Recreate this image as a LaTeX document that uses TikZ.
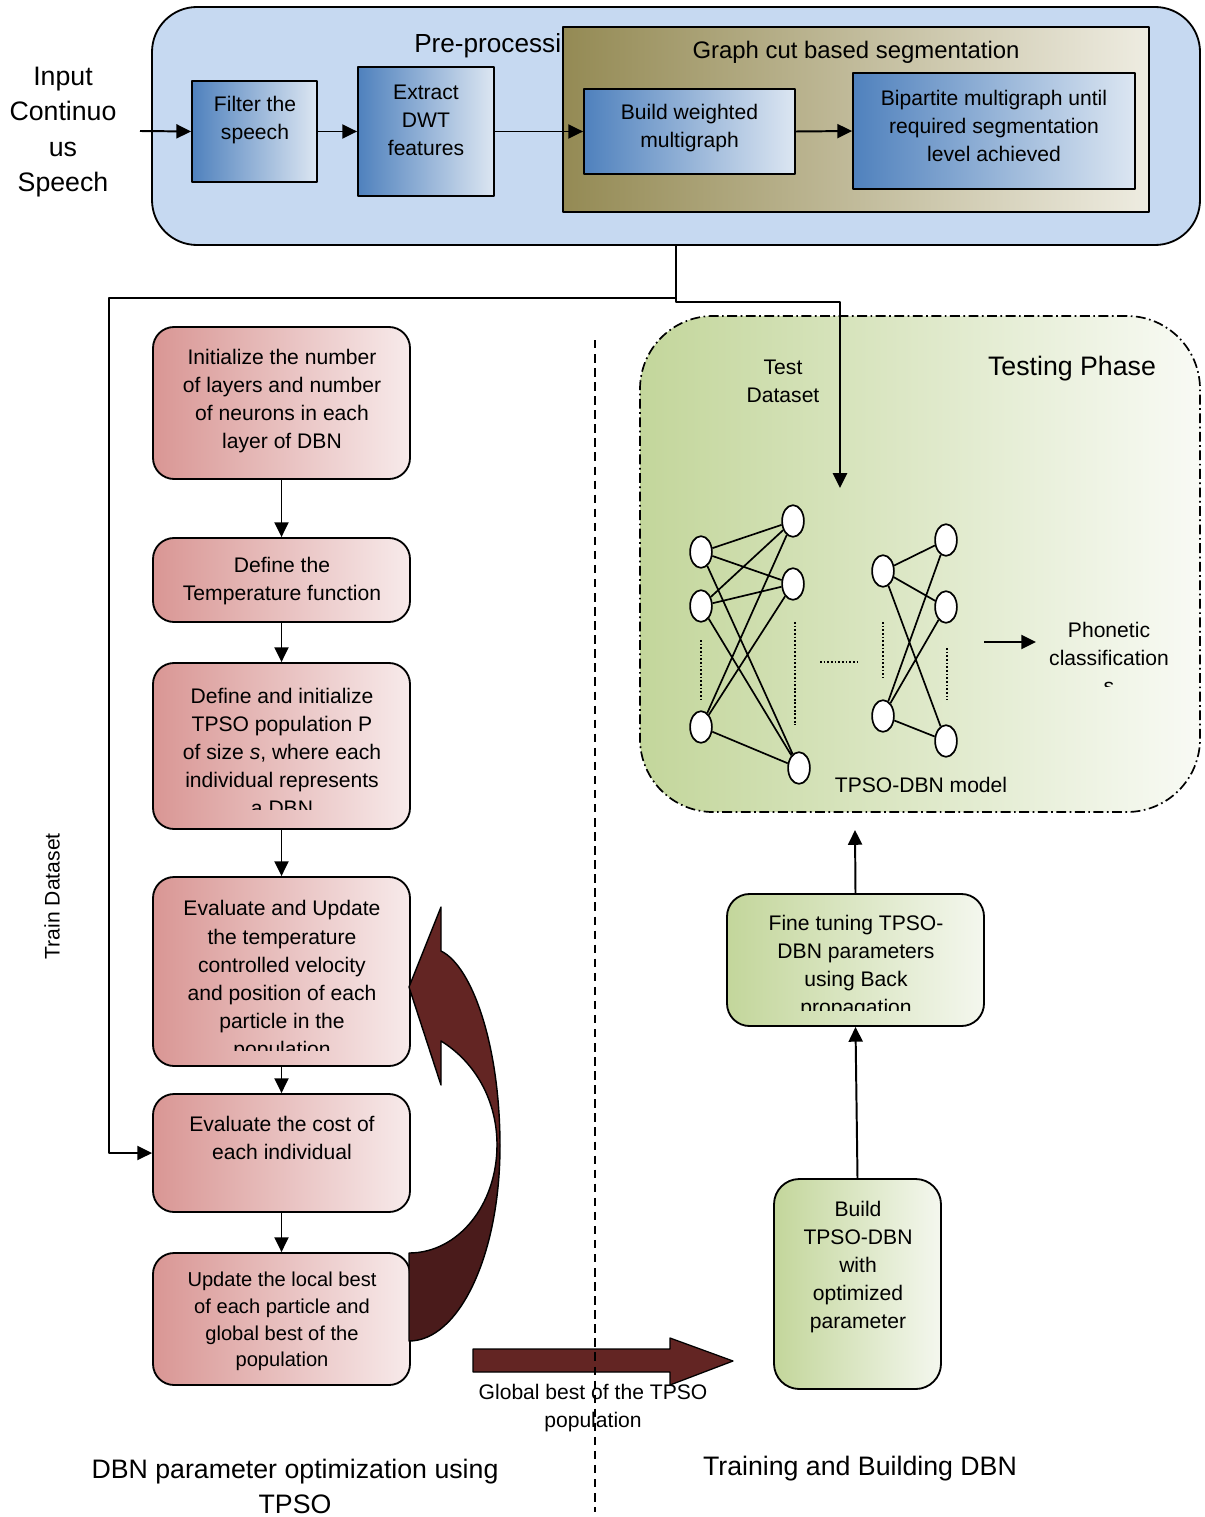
\documentclass[tikz,border=0pt]{standalone}
\usepackage{fontspec}
\setmainfont{Liberation Sans}
\usepackage{tikz}
\usetikzlibrary{arrows.meta, positioning, calc, fit, shapes.geometric}
\usepackage{xcolor}

\definecolor{preblue}{HTML}{C6D9F1}
\definecolor{blueL}{HTML}{4F81BD}
\definecolor{blueR}{HTML}{DCE6F2}
\definecolor{oliveL}{HTML}{948A54}
\definecolor{oliveR}{HTML}{EEECE1}
\definecolor{redL}{HTML}{D99694}
\definecolor{redR}{HTML}{F7EAEA}
\definecolor{greenL}{HTML}{C3D69B}
\definecolor{greenR}{HTML}{F4F7EE}
\definecolor{maroon}{HTML}{632523}
\definecolor{maroonD}{HTML}{4A1B1B}

\tikzset{
  box/.style={draw, line width=1.3pt, inner sep=0pt},
  prebox/.style={box, fill=preblue, rounded corners=32pt},
  olivebox/.style={box, left color=oliveL, right color=oliveR},
  bluebox/.style={box, left color=blueL, right color=blueR},
  redbox/.style={box, left color=redL, right color=redR, rounded corners=15pt},
  greenbox/.style={box, left color=greenL, right color=greenR, rounded corners=16pt},
  phasebox/.style={draw, line width=1.2pt, inner sep=0pt, left color=greenL, right color=greenR!60!white,
    rounded corners=52pt, dash pattern=on 7pt off 2.5pt on 1.2pt off 2.5pt},
  txt/.style={align=center, inner sep=0pt, yshift=-1.6pt, font=\fontsize{15}{20}\selectfont},
  smalltxt/.style={align=center, inner sep=0pt, yshift=-1.2pt, font=\fontsize{14.3}{19}\selectfont},
  head/.style={inner sep=0pt, yshift=-1.6pt, font=\fontsize{17}{21}\selectfont},
  big/.style={align=center, inner sep=0pt, yshift=-1.8pt, font=\fontsize{19}{24.6}\selectfont},
  arr/.style={line width=1.4pt, -{Triangle[length=10.5pt, width=10pt]}},
  neuron/.style={ellipse, draw, fill=white, line width=1.2pt, minimum width=15.5pt, minimum height=22.5pt, inner sep=0pt},
  edge/.style={line width=1.2pt},
  dots/.style={line width=1.6pt, dash pattern=on 1.3pt off 1.3pt}
}

\begin{document}
\begin{tikzpicture}[x=0.025cm, y=-0.025cm, line join=round]
    \path[fill=white] (0,0) rectangle (1204,1517);
    \useasboundingbox (0,0) rectangle (1204,1517);

    % Pre-processing stage
    \node[prebox, fit={(152,7) (1200,245)}] (pre) {};
    \node[head, anchor=west, font=\fontsize{18.6}{22}\selectfont] (pre-t) at (414,43) {Pre-processing};
    \node[olivebox, fit={(563,27) (1149,212)}] (gcut) {};
    \node[head] (gcut-t) at (856,50) {Graph cut based segmentation};

    \node[big, font=\fontsize{19}{25}\selectfont] (inp-t) at (63,129.5) {Input\\Continuo\\us\\Speech};
    \coordinate (inp) at (140,131);

    \node[bluebox, fit={(192,81) (317,182)}] (filt) {};
    \node[txt] (filt-t) at (255,118) {Filter the\\speech};
    \node[bluebox, fit={(358,67) (494,196)}] (dwt) {};
    \node[txt] (dwt-t) at (426,118) {Extract\\DWT\\features};
    \node[bluebox, fit={(584,89) (795,174)}] (bwm) {};
    \node[txt] (bwm-t) at (689.5,126) {Build weighted\\multigraph};
    \node[bluebox, fit={(853,73) (1135,189)}] (bip) {};
    \node[txt] (bip-t) at (994,124) {Bipartite multigraph until\\required segmentation\\level achieved};

    \draw[arr] (inp) -- (filt.west);
    \draw[arr] (filt.east) -- (dwt.west);
    \draw[arr] (dwt.east) -- (bwm.west);
    \draw[arr] (bwm.east) -- (bip.west);

    % Testing phase
    \node[phasebox, fit={(640,316) (1200,812)}] (test) {};
    \node[big] (test-t) at (1072,366) {Testing Phase};
    \node[txt] (tds-t) at (783,379) {Test\\Dataset};

    % TPSO-DBN network
    \node[neuron] (a1) at (701,552) {};
    \node[neuron] (a2) at (701,606) {};
    \node[neuron] (a3) at (701,727) {};
    \node[neuron] (b1) at (793,521) {};
    \node[neuron] (b2) at (793,584) {};
    \node[neuron] (b3) at (799,768) {};
    \node[neuron] (c1) at (883,571) {};
    \node[neuron] (c2) at (883,716) {};
    \node[neuron] (d1) at (946,540) {};
    \node[neuron] (d2) at (946,607) {};
    \node[neuron] (d3) at (946,741) {};
    \draw[edge] (a1) -- (b1) (a1) -- (b2) (a1) -- (b3)
                (a2) -- (b1) (a2) -- (b2) (a2) -- (b3)
                (a3) -- (b1) (a3) -- (b2) (a3) -- (b3);
    \draw[edge] (c1) -- (d1) (c1) -- (d2) (c1) -- (d3)
                (c2) -- (d1) (c2) -- (d2) (c2) -- (d3);
    \draw[dots] (701,640) -- (701,700);
    \draw[dots] (795,622) -- (795,725);
    \draw[dots] (820,662) -- (860,662);
    \draw[dots] (883,622) -- (883,677);
    \draw[dots] (947,648) -- (947,700);
    \node[txt] (model-t) at (921,783) {TPSO-DBN model};

    \coordinate (ph1) at (984,642);
    \coordinate (ph2) at (1036,642);
    \draw[arr] (ph1) -- (ph2);
    \begin{scope}
      \clip (1040,600) rectangle (1195,686);
      \node[txt] (phon-t) at (1109,655.5) {Phonetic\\classification\\s};
    \end{scope}

    % DBN parameter optimization using TPSO
    \node[redbox, fit={(153,327) (410,479)}] (init) {};
    \node[txt] (init-t) at (282,399) {Initialize the number\\of layers and number\\of neurons in each\\layer of DBN};
    \node[redbox, fit={(153,538) (410,622)}] (temp) {};
    \node[txt] (temp-t) at (282,578.5) {Define the\\Temperature function};
    \node[redbox, fit={(153,663) (410,829)}] (pop) {};
    \begin{scope}
      \clip (153,663) rectangle (410,809);
      \node[txt] (pop-t) at (282,749.5) {Define and initialize\\TPSO population P\\of size \textit{s}, where each\\individual represents\\a DBN};
    \end{scope}
    \node[redbox, fit={(153,877) (410,1066)}] (evup) {};
    \begin{scope}
      \clip (153,877) rectangle (410,1050);
      \node[txt] (evup-t) at (282,978.5) {Evaluate and Update\\the temperature\\controlled velocity\\and position of each\\particle in the\\population};
    \end{scope}
    \node[redbox, fit={(153,1094) (410,1212)}] (cost) {};
    \node[txt] (cost-t) at (282,1136) {Evaluate the cost of\\each individual};
    \node[redbox, fit={(153,1253) (410,1385)}] (best) {};
    \node[smalltxt] (best-t) at (282,1320) {Update the local best\\of each particle and\\global best of the\\population};

    \draw[arr] (init) -- (temp);
    \draw[arr] (temp) -- (pop);
    \draw[arr] (pop) -- (evup);
    \draw[arr] (evup) -- (cost);
    \draw[arr] (cost) -- (best);

    % Train / test data connectors
    \coordinate (trn) at (109,298);
    \coordinate (tst) at (840,488);
    \draw[arr] (pre.south) |- (trn) |- (cost.west);
    \draw[arr] (pre.south) -- ++(0,56) -| (tst);
    \node[txt, rotate=90] (trn-t) at (52,894) {Train Dataset};

    % Loop arrow back to the update step
    \path[save path=\loopshape] (409,1341) .. controls (459,1341) and (500,1255) .. (500,1146)
        .. controls (500,1045) and (472,966) .. (441,951) -- (441,907) -- (409,987)
        -- (441,1085) -- (441,1041) .. controls (475,1062) and (497,1100) .. (497,1145)
        .. controls (497,1205) and (458,1253) .. (409,1253) -- cycle;
    \fill[maroon, use path=\loopshape];
    \begin{scope}
      \clip (400,1143) rectangle (520,1350);
      \fill[maroonD, use path=\loopshape];
    \end{scope}
    \draw[line width=1pt, use path=\loopshape];

    % Global best handed over
    \draw[fill=maroon, line width=0.9pt] (473,1349) -- (670,1349) -- (670,1338) -- (733,1361)
        -- (670,1385) -- (670,1372) -- (473,1372) -- cycle;
    \node[txt] (glob-t) at (593,1406) {Global best of the TPSO\\population};

    % Training and building DBN
    \node[greenbox, fit={(727,894) (984,1026)}] (fine) {};
    \begin{scope}
      \clip (727,894) rectangle (984,1010);
      \node[txt] (fine-t) at (856,964.5) {Fine tuning TPSO-\\DBN parameters\\using Back\\propagation};
    \end{scope}
    \node[greenbox, rounded corners=18pt, fit={(774,1179) (941,1389)}] (build) {};
    \node[txt] (build-t) at (858,1265) {Build\\TPSO-DBN\\with\\optimized\\parameter};
    \coordinate (tpo) at (855,830);
    \draw[arr] (fine.north) -- (tpo);
    \draw[arr] (build.north) -- (fine.south);

    % Divider and captions
    \draw[line width=1pt, dash pattern=on 6pt off 4pt] (595,340) -- (595,1512);
    \node[big] (opt-t) at (295,1484) {DBN parameter optimization using\\TPSO};
    \node[big] (trb-t) at (860,1466) {Training and Building DBN};
\end{tikzpicture}
\end{document}
